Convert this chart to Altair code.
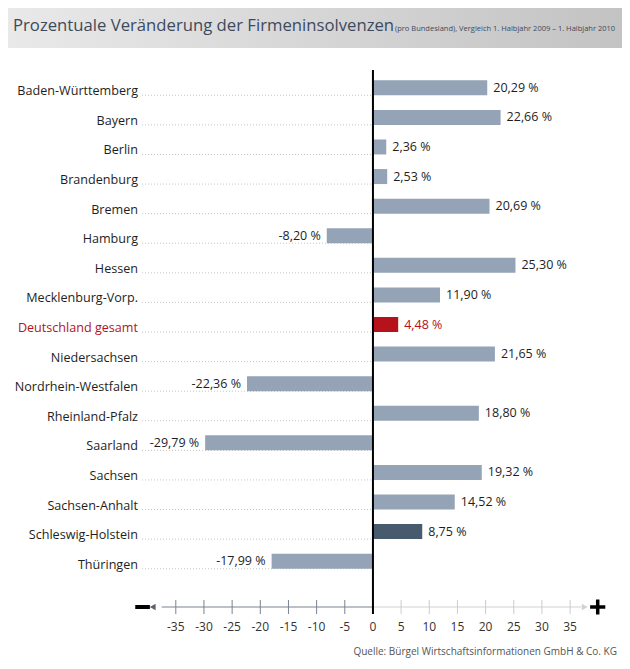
import altair as alt
import pandas as pd

states = ["Baden-Württemberg", "Bayern", "Berlin", "Brandenburg", "Bremen", "Hamburg",
          "Hessen", "Mecklenburg-Vorp.", "Deutschland gesamt", "Niedersachsen",
          "Nordrhein-Westfalen", "Rheinland-Pfalz", "Saarland", "Sachsen",
          "Sachsen-Anhalt", "Schleswig-Holstein", "Thüringen"]
changes = [20.29, 22.66, 2.36, 2.53, 20.69, -8.20, 25.30, 11.90, 4.48, 21.65,
           -22.36, 18.80, -29.79, 19.32, 14.52, 8.75, -17.99]
tick_values = [-35, -30, -25, -20, -15, -10, -5, 0, 5, 10, 15, 20, 25, 30, 35]

title_main = "Prozentuale Veränderung der Firmeninsolvenzen"
title_small = "(pro Bundesland), Vergleich 1. Halbjahr 2009 – 1. Halbjahr 2010"
source = "Quelle: Bürgel Wirtschaftsinformationen GmbH & Co. KG"

df = pd.DataFrame({"state": states, "change": changes})
df["label"] = [f"{v:.2f}".replace(".", ",") + " %" for v in changes]
ticks_df = pd.DataFrame({"tick": tick_values})
ticks_df["tlabel"] = [str(t) for t in tick_values]
one = pd.DataFrame({"a": [0]})

FONT = "Open Sans"
BAR = "#94a3b6"
RED = "#b5121b"
DARK = "#475a6e"
W, H = 445, 503
PAD_L, PAD_T, PAD_R, PAD_B = 134, 65, 35, 84
AX = 534  # axis line pixel offset from plot top

x_scale = alt.Scale(domain=[-41, 38], nice=False, zero=False)
y_scale = alt.Scale(domain=states, paddingInner=0, paddingOuter=0)
y_plain = alt.Y("state:N", sort=states, scale=y_scale, axis=None)
x_val = alt.X("change:Q", scale=x_scale, axis=None)

def xd(v):
    return alt.X(datum=v, scale=x_scale, axis=None)

def x2d(v):
    return alt.X2(datum=v)

gradient = {"gradient": "linear", "x1": 0, "y1": 0, "x2": 1, "y2": 0,
            "stops": [{"offset": 0, "color": "#e9e9e9"}, {"offset": 1, "color": "#c3c3c3"}]}

bg = alt.Chart(one).mark_rect(fill=gradient).encode(
    x=alt.value(-PAD_L), x2=alt.value(W + PAD_R), y=alt.value(-PAD_T), y2=alt.value(H + PAD_B))
panel = alt.Chart(one).mark_rect(fill="white").encode(
    x=alt.value(-PAD_L), x2=alt.value(480), y=alt.value(-25), y2=alt.value(H + PAD_B))

t1 = alt.Chart(one).mark_text(text=title_main, align="left", baseline="alphabetic",
                              font=FONT, fontSize=16.7, color="#3d4a5c").encode(
    x=alt.value(-129), y=alt.value(-42))
t2 = alt.Chart(one).mark_text(text=title_small, align="left", baseline="alphabetic",
                              font=FONT, fontSize=7.5, color="#3d4a5c").encode(
    x=alt.value(253), y=alt.value(-42))
src = alt.Chart(one).mark_text(text=source, align="right", baseline="alphabetic",
                               font=FONT, fontSize=10, color="#555555").encode(
    x=alt.value(475), y=alt.value(582))

dots = alt.Chart(df).mark_rule(color="#b8b8b8", strokeDash=[1, 2], strokeWidth=0.8, yOffset=7.5).encode(
    y=y_plain, x=xd(-41), x2=x2d(0))

red_if_de = (alt.when(alt.datum.state == "Deutschland gesamt").then(alt.value(RED))
             .otherwise(alt.value("#1e1e1e")))

row_labels = alt.Chart(df).mark_text(align="right", baseline="middle", dx=-4, yOffset=3.5,
                                     font=FONT, fontSize=12.6).encode(
    y=y_plain, x=xd(-41), text="state:N", color=red_if_de)

bar_color = (alt.when(alt.datum.state == "Deutschland gesamt").then(alt.value(RED))
             .when(alt.datum.state == "Schleswig-Holstein").then(alt.value(DARK))
             .otherwise(alt.value(BAR)))

bars = alt.Chart(df).mark_bar(size=15).encode(
    y=y_plain, x=x_val, x2=x2d(0), color=bar_color)

pos_txt = alt.Chart(df).transform_filter(alt.datum.change >= 0).mark_text(
    align="left", baseline="middle", dx=6, font=FONT, fontSize=12.5).encode(
    y=y_plain, x=x_val, text="label:N", color=red_if_de)
neg_txt = alt.Chart(df).transform_filter(alt.datum.change < 0).mark_text(
    align="right", baseline="middle", dx=-6, font=FONT, fontSize=12.5).encode(
    y=y_plain, x=x_val, text="label:N", color=red_if_de)

axis_left = alt.Chart(one).mark_rule(color="#7a8391", strokeWidth=1.2).encode(
    x=xd(-37.5), x2=x2d(0), y=alt.value(AX))
axis_right = alt.Chart(one).mark_rule(color="#cfd2d6", strokeWidth=1.2).encode(
    x=xd(0), x2=x2d(37), y=alt.value(AX))

tick_color = (alt.when(alt.datum.tick < 0).then(alt.value("#7a8391"))
              .otherwise(alt.value("#c9ccd1")))
tick_marks = alt.Chart(ticks_df).mark_rule(strokeWidth=1).encode(
    x=alt.X("tick:Q", scale=x_scale, axis=None), y=alt.value(AX - 7), y2=alt.value(AX + 7),
    color=tick_color)
tick_labels = alt.Chart(ticks_df).mark_text(baseline="middle", font=FONT, fontSize=12,
                                            color="#333333").encode(
    x=alt.X("tick:Q", scale=x_scale, axis=None), y=alt.value(AX + 20), text="tlabel:N")

zero = alt.Chart(one).mark_rule(color="black", strokeWidth=2).encode(
    x=xd(0), y=alt.value(-3), y2=alt.value(AX + 7))

arrow_left = alt.Chart(one).mark_point(shape="triangle-left", filled=True, size=45,
                                       color="#5a6270", opacity=1).encode(x=xd(-39.1), y=alt.value(AX))
arrow_right = alt.Chart(one).mark_point(shape="triangle-right", filled=True, size=45,
                                        color="#cfd2d6", opacity=1).encode(x=xd(37.6), y=alt.value(AX))
minus = alt.Chart(one).mark_rule(color="black", strokeWidth=4).encode(
    x=xd(-42.2), x2=x2d(-39.6), y=alt.value(AX))
plus_h = alt.Chart(one).mark_rule(color="black", strokeWidth=3.5).encode(
    x=xd(38.55), x2=x2d(41.25), y=alt.value(AX))
plus_v = alt.Chart(one).mark_rule(color="black", strokeWidth=3.5).encode(
    x=xd(39.9), y=alt.value(AX - 7.5), y2=alt.value(AX + 7.5))

chart = alt.layer(
    bg, panel, t1, t2, src, dots, row_labels, bars, pos_txt, neg_txt,
    axis_left, axis_right, tick_marks, tick_labels, zero,
    arrow_left, arrow_right, minus, plus_h, plus_v
).properties(
    width=W, height=H, autosize="none",
    padding={"left": PAD_L, "top": PAD_T, "right": PAD_R, "bottom": PAD_B},
).configure_view(strokeWidth=0)

chart.save("out.html", embed_options={"renderer": "svg", "actions": False})
